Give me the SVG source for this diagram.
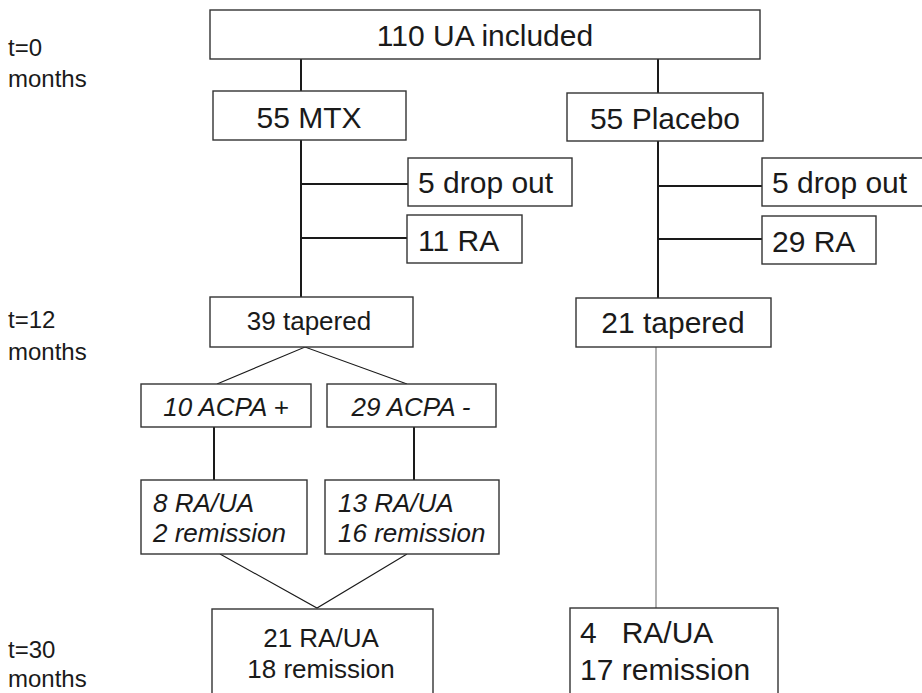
<svg xmlns="http://www.w3.org/2000/svg" width="922" height="693" viewBox="0 0 922 693">
<style>
.box{fill:#fff;stroke:#333;stroke-width:1.4}
.t{font-family:"Liberation Sans",Arial,sans-serif;fill:#1a1a1a}
.L{font-size:30px}
.M{font-size:26px}
.S{font-size:24px}
.i{font-style:italic}
.c{stroke:#1a1a1a;stroke-width:2;fill:none}
.d{stroke:#1a1a1a;stroke-width:1.1;fill:none}
.g{stroke:#888;stroke-width:1.3;fill:none}
</style>
<rect width="922" height="693" fill="#fff"/>
<g id="timeline">
<text class="t S" x="8" y="56">t=0</text>
<text class="t S" x="8" y="87">months</text>
<text class="t S" x="8" y="328">t=12</text>
<text class="t S" x="8" y="360">months</text>
<text class="t S" x="8" y="658">t=30</text>
<text class="t S" x="8" y="687">months</text>
</g>
<g id="connectors">
<line class="c" x1="301" y1="59" x2="301" y2="91"/>
<line class="c" x1="658" y1="59" x2="658" y2="93"/>
<line class="c" x1="301" y1="140" x2="301" y2="297"/>
<line class="c" x1="301" y1="184" x2="408" y2="184"/>
<line class="c" x1="301" y1="238" x2="407" y2="238"/>
<line class="c" x1="658" y1="141" x2="658" y2="298"/>
<line class="c" x1="658" y1="186" x2="762" y2="186"/>
<line class="c" x1="658" y1="239" x2="762" y2="239"/>
<line class="g" x1="656" y1="347" x2="656" y2="608"/>
<polyline class="d" points="217,384 305,347 407,384"/>
<line class="c" x1="214" y1="427" x2="214" y2="480"/>
<line class="c" x1="414" y1="427" x2="414" y2="480"/>
<polyline class="d" points="220,554 317,608 407,554"/>
</g>
<g id="n-included">
<rect class="box" x="210" y="10" width="550" height="49"/>
<text class="t L" x="485" y="46" text-anchor="middle">110 UA included</text>
</g>
<g id="n-mtx">
<rect class="box" x="213" y="91" width="193" height="49"/>
<text class="t L" x="309" y="128" text-anchor="middle">55 MTX</text>
</g>
<g id="n-placebo">
<rect class="box" x="567" y="93" width="196" height="48"/>
<text class="t L" x="665" y="129" text-anchor="middle">55 Placebo</text>
</g>
<g id="n-drop-mtx">
<rect class="box" x="408" y="158" width="164" height="48"/>
<text class="t L" x="418" y="193">5 drop out</text>
</g>
<g id="n-ra-mtx">
<rect class="box" x="407" y="215" width="115" height="48"/>
<text class="t L" x="418" y="251">11 RA</text>
</g>
<g id="n-drop-pl">
<rect class="box" x="762" y="158" width="170" height="48"/>
<text class="t L" x="772" y="193">5 drop out</text>
</g>
<g id="n-ra-pl">
<rect class="box" x="762" y="216" width="114" height="48"/>
<text class="t L" x="772" y="252">29 RA</text>
</g>
<g id="n-tap-mtx">
<rect class="box" x="210" y="297" width="203" height="50"/>
<text class="t M" x="309" y="330" text-anchor="middle">39 tapered</text>
</g>
<g id="n-tap-pl">
<rect class="box" x="576" y="298" width="195" height="49"/>
<text class="t L" x="673" y="333" text-anchor="middle">21 tapered</text>
</g>
<g id="n-acpa-pos">
<rect class="box" x="141" y="384" width="170" height="43"/>
<text class="t M i" x="226" y="416" text-anchor="middle">10 ACPA +</text>
</g>
<g id="n-acpa-neg">
<rect class="box" x="327" y="384" width="169" height="43"/>
<text class="t M i" x="411" y="416" text-anchor="middle">29 ACPA -</text>
</g>
<g id="n-res-pos">
<rect class="box" x="141" y="480" width="166" height="74"/>
<text class="t M i" x="153" y="512">8 RA/UA</text>
<text class="t M i" x="153" y="542">2 remission</text>
</g>
<g id="n-res-neg">
<rect class="box" x="325" y="480" width="174" height="74"/>
<text class="t M i" x="338" y="512">13 RA/UA</text>
<text class="t M i" x="338" y="542">16 remission</text>
</g>
<g id="n-final-mtx">
<rect class="box" x="212" y="609" width="221" height="100"/>
<text class="t M" x="321" y="647" text-anchor="middle">21 RA/UA</text>
<text class="t M" x="321" y="678" text-anchor="middle">18 remission</text>
</g>
<g id="n-final-pl">
<rect class="box" x="570" y="608" width="208" height="100"/>
<text class="t L" x="580" y="643" xml:space="preserve">4   RA/UA</text>
<text class="t L" x="580" y="680">17 remission</text>
</g>
</svg>
